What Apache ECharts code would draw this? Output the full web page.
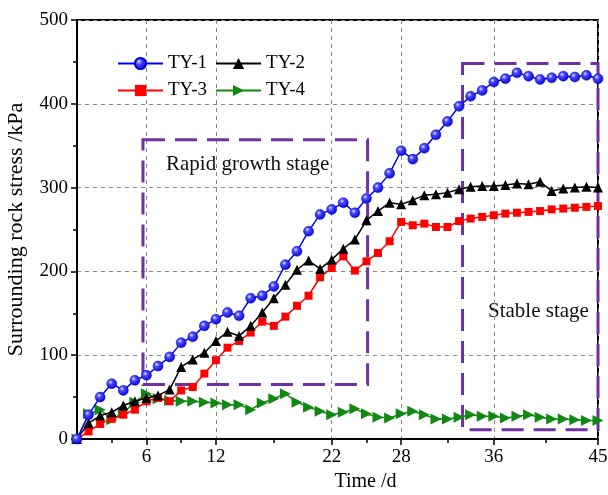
<!DOCTYPE html>
<html>
<head>
<meta charset="utf-8">
<script src="https://cdn.jsdelivr.net/npm/echarts@6/dist/echarts.min.js"></script>
<style>
  html, body { margin: 0; padding: 0; background: #fff; }
  #chart { width: 608px; height: 495px; }
</style>
</head>
<body>
<div id="chart"></div>
<script>
// Monitoring days
const days = [0, 1, 2, 3, 4, 5, 6, 7, 8, 9, 10, 11, 12, 13, 14, 15, 16, 17, 18, 19, 20, 21, 22,
  23, 24, 25, 26, 27, 28, 29, 30, 31, 32, 33, 34, 35, 36, 37, 38, 39, 40, 41, 42, 43, 44, 45];

// Surrounding rock stress (kPa) per gauge
const ty1 = [0, 29, 50, 66, 58, 70, 76, 87, 98, 115, 122, 135, 143, 151, 147, 168, 171, 182, 208, 224, 248, 268, 274,
  282, 270, 287, 300, 317, 344, 334, 347, 363, 379, 397, 409, 416, 426, 430, 437, 433, 429, 431, 433, 432, 434, 430];
const ty2 = [0, 19, 28, 32, 40, 45, 49, 52, 59, 86, 95, 103, 117, 128, 123, 135, 151, 168, 184, 202, 213, 203, 214,
  227, 238, 261, 272, 282, 280, 285, 291, 292, 294, 298, 301, 302, 302, 303, 305, 304, 307, 296, 299, 300, 301, 300];
const ty3 = [0, 9, 18, 24, 29, 35, 45, 49, 45, 58, 62, 78, 94, 109, 117, 127, 140, 135, 146, 159, 171, 193, 204,
  218, 201, 212, 222, 236, 259, 255, 257, 253, 253, 260, 263, 265, 267, 269, 270, 271, 272, 274, 275, 276, 277, 278];
const ty4 = [0, 30, 35, 23, 31, 44, 54, 48, 46, 45, 45, 44, 43, 41, 41, 35, 43, 48, 54, 44, 38, 33, 29,
  32, 36, 30, 26, 25, 30, 33, 29, 24, 24, 26, 29, 27, 27, 25, 27, 29, 26, 24, 24, 23, 22, 22];

// Axis ticks
const xTickValues = [6, 12, 22, 28, 36, 45];
const xMinorTickValues = [3, 9, 17, 25, 32, 40.5];
const yTicks = [0, 100, 200, 300, 400, 500];

// Stage boxes: [day, kPa] corners
const rapidBox = [[5.7, 357], [25.1, 65]];
const stableBox = [[33.3, 448], [45, 11]];

const FONT = 'Liberation Serif';
const pair = arr => days.map((d, i) => [d, arr[i]]);

const blueBall = {
  type: 'radial', x: 0.38, y: 0.35, r: 0.7,
  colorStops: [
    { offset: 0, color: '#e8e8ff' },
    { offset: 0.3, color: '#4a4aff' },
    { offset: 1, color: '#0000c8' }
  ]
};

const boxStyle = {
  color: 'rgba(0,0,0,0)',
  borderColor: '#7030a0',
  borderWidth: 3,
  borderType: [22, 10]
};

const chart = echarts.init(document.getElementById('chart'), null, { renderer: 'canvas' });

chart.setOption({
  animation: false,
  backgroundColor: '#fff',
  textStyle: { fontFamily: FONT, color: '#000' },
  grid: {
    left: 77, right: 10, top: 20, bottom: 56,
    outerBoundsMode: 'none', containLabel: false,
    show: true, borderColor: '#000', borderWidth: 2, backgroundColor: 'transparent'
  },
  legend: [
    {
      data: ['TY-1', 'TY-2'], left: 112, top: 49, itemWidth: 45, itemHeight: 14, itemGap: 8,
      textStyle: { fontFamily: FONT, fontSize: 19, color: '#000' }
    },
    {
      data: ['TY-3', 'TY-4'], left: 112, top: 76, itemWidth: 45, itemHeight: 14, itemGap: 8,
      textStyle: { fontFamily: FONT, fontSize: 19, color: '#000' }
    }
  ],
  xAxis: [
    {
      type: 'value', min: 0, max: 45,
      name: 'Time /d', nameLocation: 'middle', nameGap: 32,
      nameTextStyle: { fontFamily: FONT, fontSize: 20, color: '#000', padding: [0, 0, 0, 56] },
      axisLine: { show: true, lineStyle: { color: '#000', width: 2 } },
      axisTick: { show: true, length: 6, customValues: xTickValues, lineStyle: { color: '#000', width: 1.5 } },
      axisLabel: { customValues: xTickValues, fontFamily: FONT, fontSize: 19, color: '#000', margin: 9 },
      splitLine: { show: true, lineStyle: { color: '#888', width: 1, type: [4, 4] } }
    },
    {
      type: 'value', min: 0, max: 45, position: 'bottom',
      axisLine: { show: false },
      axisTick: { show: true, length: 4, customValues: xMinorTickValues, lineStyle: { color: '#000', width: 1.5 } },
      axisLabel: { show: false },
      splitLine: { show: false }
    }
  ],
  yAxis: {
    type: 'value', min: 0, max: 500, interval: 100,
    name: 'Surrounding rock stress /kPa', nameLocation: 'middle', nameGap: 50,
    nameTextStyle: { fontFamily: FONT, fontSize: 22, color: '#000' },
    axisLine: { show: true, lineStyle: { color: '#000', width: 2 } },
    axisTick: { show: true, length: 6, lineStyle: { color: '#000', width: 1.5 } },
    minorTick: { show: true, splitNumber: 2, length: 4, lineStyle: { color: '#000', width: 1.5 } },
    axisLabel: {
      fontFamily: FONT, fontSize: 19, color: '#000', margin: 9,
      formatter: v => (yTicks.indexOf(v) >= 0 ? String(v) : '')
    },
    splitLine: { show: true, lineStyle: { color: '#888', width: 1, type: [4, 4] } }
  },
  series: [
    {
      name: 'TY-4', type: 'line', data: pair(ty4), z: 2,
      symbol: 'triangle', symbolRotate: -90, symbolSize: 11,
      lineStyle: { color: '#118811', width: 1.5 },
      itemStyle: { color: '#118811' }
    },
    {
      name: 'TY-3', type: 'line', data: pair(ty3), z: 3,
      symbol: 'rect', symbolSize: 8,
      lineStyle: { color: '#ff0000', width: 1.5 },
      itemStyle: { color: '#ff0000' }
    },
    {
      name: 'TY-2', type: 'line', data: pair(ty2), z: 4,
      symbol: 'triangle', symbolSize: 10,
      lineStyle: { color: '#000', width: 1.5 },
      itemStyle: { color: '#000' }
    },
    {
      name: 'TY-1', type: 'line', data: pair(ty1), z: 5,
      symbol: 'circle', symbolSize: 10,
      lineStyle: { color: '#0000ff', width: 1.5 },
      itemStyle: { color: blueBall, borderColor: '#0000dd', borderWidth: 0.5 },
      markArea: {
        silent: true,
        itemStyle: boxStyle,
        data: [
          [{ coord: rapidBox[0] }, { coord: rapidBox[1] }],
          [{ coord: stableBox[0] }, { coord: stableBox[1] }]
        ]
      }
    }
  ],
  graphic: [
    {
      type: 'text', left: 166, top: 154, silent: true,
      style: { text: 'Rapid growth stage', font: '21px "Liberation Serif"', fill: '#111' }
    },
    {
      type: 'text', left: 488, top: 301, silent: true,
      style: { text: 'Stable stage', font: '21px "Liberation Serif"', fill: '#111' }
    }
  ]
});
</script>
</body>
</html>
